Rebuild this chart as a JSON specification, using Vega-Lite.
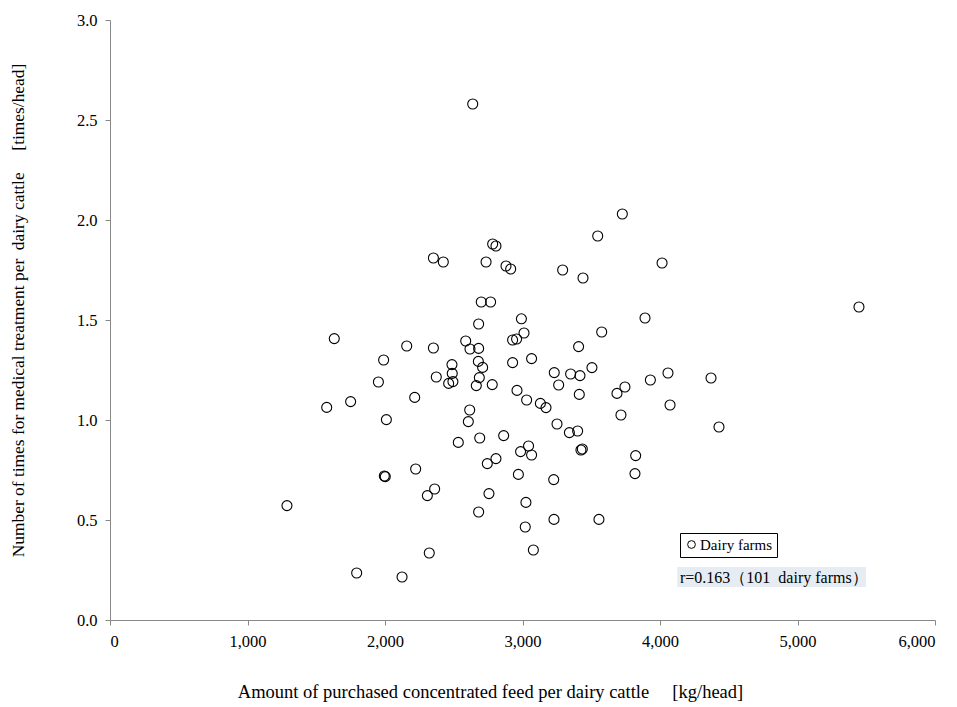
{
  "$schema": "https://vega.github.io/schema/vega-lite/v6.json",
  "autosize": "none",
  "width": 825,
  "height": 600,
  "padding": {"left": 110, "top": 20, "right": 22, "bottom": 87},
  "background": "white",
  "config": {
    "view": {"stroke": null},
    "font": "Liberation Serif",
    "axis": {"grid": false, "domainColor": "#888888", "tickColor": "#888888", "labelFont": "Liberation Serif", "titleFont": "Liberation Serif", "labelColor": "#000000", "titleColor": "#000000", "labelFontSize": 16.5, "titleFontSize": 18, "titleFontWeight": "normal", "tickSize": 5},
    "legend": {"labelFont": "Liberation Serif", "labelFontSize": 15, "labelColor": "#000000"}
  },
  "data": {"values": [
    {"feed": 2638, "treat": 2.58}, {"feed": 3726, "treat": 2.03}, {"feed": 3547, "treat": 1.92}, {"feed": 2783, "treat": 1.88}, {"feed": 2807, "treat": 1.87},
    {"feed": 2352, "treat": 1.81}, {"feed": 2424, "treat": 1.79}, {"feed": 2735, "treat": 1.79}, {"feed": 2880, "treat": 1.77}, {"feed": 2914, "treat": 1.755},
    {"feed": 3292, "treat": 1.75}, {"feed": 3440, "treat": 1.71}, {"feed": 2700, "treat": 1.59}, {"feed": 2768, "treat": 1.59}, {"feed": 2992, "treat": 1.506},
    {"feed": 2681, "treat": 1.48}, {"feed": 3891, "treat": 1.51}, {"feed": 3576, "treat": 1.44}, {"feed": 3011, "treat": 1.435}, {"feed": 1631, "treat": 1.407},
    {"feed": 2158, "treat": 1.37}, {"feed": 2352, "treat": 1.36}, {"feed": 2587, "treat": 1.395}, {"feed": 2618, "treat": 1.355}, {"feed": 2681, "treat": 1.358},
    {"feed": 2928, "treat": 1.40}, {"feed": 2957, "treat": 1.405}, {"feed": 3408, "treat": 1.367}, {"feed": 1990, "treat": 1.30}, {"feed": 2487, "treat": 1.277},
    {"feed": 2679, "treat": 1.293}, {"feed": 2710, "treat": 1.263}, {"feed": 2489, "treat": 1.233}, {"feed": 2373, "treat": 1.215}, {"feed": 2686, "treat": 1.212},
    {"feed": 2463, "treat": 1.183}, {"feed": 2494, "treat": 1.192}, {"feed": 2664, "treat": 1.172}, {"feed": 2780, "treat": 1.177}, {"feed": 2928, "treat": 1.287},
    {"feed": 3066, "treat": 1.307}, {"feed": 3231, "treat": 1.237}, {"feed": 3350, "treat": 1.23}, {"feed": 3418, "treat": 1.222}, {"feed": 3505, "treat": 1.262},
    {"feed": 3263, "treat": 1.175}, {"feed": 1952, "treat": 1.19}, {"feed": 2960, "treat": 1.148}, {"feed": 3413, "treat": 1.128}, {"feed": 3930, "treat": 1.20},
    {"feed": 3687, "treat": 1.133}, {"feed": 3745, "treat": 1.165}, {"feed": 3030, "treat": 1.10}, {"feed": 3130, "treat": 1.083}, {"feed": 3171, "treat": 1.062},
    {"feed": 2216, "treat": 1.113}, {"feed": 1750, "treat": 1.092}, {"feed": 1576, "treat": 1.063}, {"feed": 2010, "treat": 1.002}, {"feed": 2616, "treat": 1.05},
    {"feed": 2606, "treat": 0.992}, {"feed": 3716, "treat": 1.025}, {"feed": 3251, "treat": 0.98}, {"feed": 3341, "treat": 0.937}, {"feed": 3401, "treat": 0.945},
    {"feed": 2533, "treat": 0.888}, {"feed": 2689, "treat": 0.91}, {"feed": 2863, "treat": 0.922}, {"feed": 2986, "treat": 0.842}, {"feed": 3044, "treat": 0.87},
    {"feed": 3066, "treat": 0.825}, {"feed": 3425, "treat": 0.85}, {"feed": 3435, "treat": 0.855}, {"feed": 3823, "treat": 0.822}, {"feed": 3818, "treat": 0.732},
    {"feed": 2807, "treat": 0.807}, {"feed": 2744, "treat": 0.782}, {"feed": 1995, "treat": 0.72}, {"feed": 2002, "treat": 0.717}, {"feed": 2223, "treat": 0.755},
    {"feed": 2970, "treat": 0.728}, {"feed": 3227, "treat": 0.702}, {"feed": 2361, "treat": 0.655}, {"feed": 2308, "treat": 0.622}, {"feed": 2756, "treat": 0.632},
    {"feed": 1287, "treat": 0.572}, {"feed": 3025, "treat": 0.588}, {"feed": 2681, "treat": 0.54}, {"feed": 3229, "treat": 0.503}, {"feed": 3556, "treat": 0.503},
    {"feed": 3020, "treat": 0.465}, {"feed": 2322, "treat": 0.335}, {"feed": 3079, "treat": 0.35}, {"feed": 1794, "treat": 0.235}, {"feed": 2124, "treat": 0.215},
    {"feed": 4015, "treat": 1.785}, {"feed": 5447, "treat": 1.565}, {"feed": 4058, "treat": 1.235}, {"feed": 4371, "treat": 1.21}, {"feed": 4073, "treat": 1.075},
    {"feed": 4429, "treat": 0.965}
  ]},
  "layer": [
    {
      "data": {"values": [{"label": "r=0.163（101\u00a0 dairy farms）"}]},
      "mark": {"type": "rect", "color": "#e6ecf4"},
      "encoding": {
        "x": {"datum": 4125, "type": "quantitative"},
        "x2": {"datum": 5498},
        "y": {"datum": 0.265, "type": "quantitative"},
        "y2": {"datum": 0.165}
      }
    },
    {
      "data": {"values": [{"label": "r=0.163（101\u00a0 dairy farms）"}]},
      "mark": {"type": "text", "align": "left", "baseline": "middle", "fontSize": 16, "font": "Liberation Serif", "color": "#000000", "dx": 2},
      "encoding": {
        "x": {"datum": 4131, "type": "quantitative"},
        "y": {"datum": 0.21, "type": "quantitative"},
        "text": {"field": "label"}
      }
    },
    {
      "mark": {"type": "point", "shape": "circle", "filled": false, "strokeWidth": 1.1, "size": 100, "opacity": 1},
      "encoding": {
        "x": {"field": "feed", "type": "quantitative", "scale": {"domain": [0, 6000], "nice": false}, "axis": {"values": [0, 1000, 2000, 3000, 4000, 5000, 6000], "format": ",d", "labelPadding": 8, "title": "Amount of purchased concentrated feed per dairy cattle\u00a0\u00a0\u00a0\u00a0\u00a0[kg/head]", "titleFontSize": 18.5, "titleX": 380, "titleY": 71, "titleAlign": "center", "titleBaseline": "middle"}},
        "y": {"field": "treat", "type": "quantitative", "scale": {"domain": [0, 3], "nice": false}, "axis": {"values": [0, 0.5, 1, 1.5, 2, 2.5, 3], "format": ".1f", "labelPadding": 8, "title": "Number of times for medical treatment per\u00a0 dairy cattle\u00a0\u00a0\u00a0\u00a0\u00a0[times/head]", "titleFontSize": 17.4, "titleX": -92, "titleY": 290, "titleAlign": "center", "titleBaseline": "middle", "titleAngle": 270}},
        "color": {"datum": "Dairy farms", "type": "nominal", "scale": {"range": ["#000000"]}, "legend": {"title": null, "orient": "none", "legendX": 570, "legendY": 513, "strokeColor": "#000000", "padding": 4, "symbolSize": 60, "labelFontSize": 15, "labelFont": "Liberation Serif", "labelColor": "#000000", "labelOffset": 1, "symbolStrokeWidth": 1, "fillColor": "white"}}
      }
    }
  ]
}
